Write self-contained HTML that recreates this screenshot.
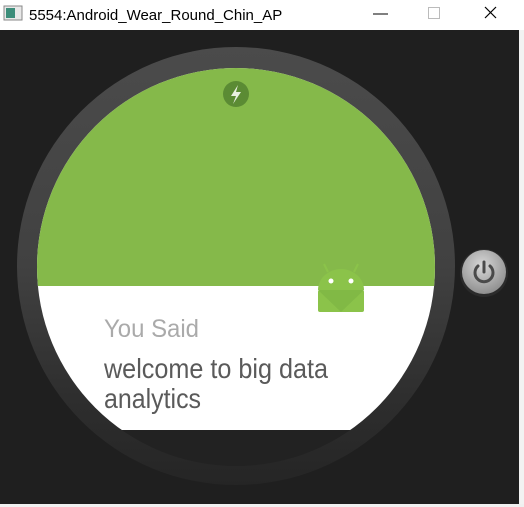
<!DOCTYPE html>
<html><head><meta charset="utf-8"><style>
html,body{margin:0;padding:0;width:524px;height:507px;overflow:hidden;background:#fff;}
svg{display:block;}
text{font-family:"Liberation Sans",sans-serif;}
</style></head><body>
<svg width="524" height="507" viewBox="0 0 524 507">
  <defs>
    <linearGradient id="bez" x1="0" y1="0" x2="0" y2="1">
      <stop offset="0" stop-color="#4b4b4b"/>
      <stop offset="0.5" stop-color="#414141"/>
      <stop offset="0.8" stop-color="#2e2e2e"/>
      <stop offset="1" stop-color="#252525"/>
    </linearGradient>
    <radialGradient id="pwr" cx="0.45" cy="0.35" r="0.7">
      <stop offset="0" stop-color="#d8d8d8"/>
      <stop offset="1" stop-color="#8a8a8a"/>
    </radialGradient>
    <clipPath id="scr"><circle cx="236" cy="267" r="199"/></clipPath>
  </defs>
  <rect x="0" y="0" width="524" height="30" fill="#ffffff"/>
  <g>
    <rect x="4" y="6" width="18" height="14" fill="#e8e8e8" stroke="#888" stroke-width="1"/>
    <rect x="6" y="8" width="9" height="10" fill="#3c8d7a"/>
  </g>
  <text x="29" y="20" font-size="15" fill="#000">5554:Android_Wear_Round_Chin_AP</text>
  <line x1="373" y1="14" x2="388" y2="14" stroke="#000" stroke-width="1"/>
  <rect x="428.5" y="7.5" width="11" height="11" fill="none" stroke="#bbb"/>
  <g stroke="#000" stroke-width="1.2">
    <line x1="485" y1="7" x2="496" y2="18"/><line x1="496" y1="7" x2="485" y2="18"/>
  </g>
  <rect x="0" y="30" width="519" height="474" fill="#1f1f1f"/>
  <rect x="519" y="30" width="5" height="474" fill="#f2f2f2"/>
  <circle cx="236" cy="266" r="219" fill="url(#bez)"/>
  <g clip-path="url(#scr)">
    <rect x="30" y="430" width="420" height="40" fill="#222222"/>
    <rect x="30" y="60" width="420" height="370" fill="#ffffff"/>
    <rect x="30" y="60" width="420" height="226" fill="#85b94a"/>
  </g>
  <g>
    <circle cx="236" cy="94" r="13" fill="#5b8b34"/>
    <path d="M238 85 L231 96 L236 96 L233 104 L241 92 L236 92 Z" fill="#e8f0e0"/>
  </g>
  <g>
    <line x1="324" y1="264" x2="328" y2="272" stroke="#8bc34a" stroke-width="2"/>
    <line x1="358" y1="264" x2="354" y2="272" stroke="#8bc34a" stroke-width="2"/>
    <path d="M318 290 A23 21 0 0 1 364 290 Z" fill="#8bc34a"/>
    <rect x="318" y="290" width="46" height="22" rx="2" fill="#8bc34a"/>
    <path d="M318 290 L341 312 L364 290 Z" fill="#7cb342" opacity="0.6"/>
    <circle cx="331" cy="281" r="2.5" fill="#fff"/>
    <circle cx="351" cy="281" r="2.5" fill="#fff"/>
  </g>
  <text x="104" y="337" font-size="25" fill="#aaaaaa" textLength="95" lengthAdjust="spacingAndGlyphs">You Said</text>
  <text x="104" y="378" font-size="28" fill="#5a5a5a" textLength="224" lengthAdjust="spacingAndGlyphs">welcome to big data</text>
  <text x="104" y="408" font-size="28" fill="#5a5a5a" textLength="97" lengthAdjust="spacingAndGlyphs">analytics</text>
  <g>
    <circle cx="484" cy="273" r="24" fill="#2b2b2b"/>
    <circle cx="484" cy="272" r="22" fill="url(#pwr)"/>
    <path d="M478 266 A9 9 0 1 0 490 266" fill="none" stroke="#4a4a4a" stroke-width="3" stroke-linecap="round"/>
    <line x1="484" y1="262" x2="484" y2="272" stroke="#4a4a4a" stroke-width="3" stroke-linecap="round"/>
  </g>
  <rect x="0" y="504" width="524" height="3" fill="#f0f0f0"/>
</svg>
</body></html>
